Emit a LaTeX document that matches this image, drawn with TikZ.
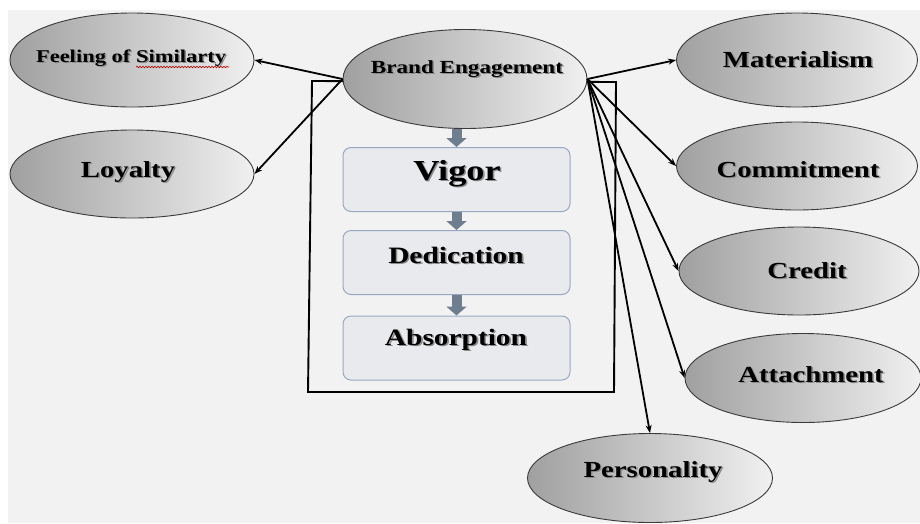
\documentclass[tikz,border=0pt]{standalone}
\usepackage{fontspec}
\newfontfamily\lblfont{Liberation Serif}[FakeStretch=1.25]
\usetikzlibrary{arrows.meta,decorations.pathmorphing,shapes.geometric}

\definecolor{pagebg}{HTML}{F2F2F2}
\definecolor{ovaldark}{HTML}{A0A0A0}
\definecolor{ovalmid}{HTML}{CACACA}
\definecolor{ovallight}{HTML}{F0F0F0}
\definecolor{ovalline}{HTML}{3A3A3A}
\definecolor{boxfill}{HTML}{E9EAEE}
\definecolor{boxline}{HTML}{98A8C2}
\definecolor{flowgray}{HTML}{6F7E8F}

\tikzset{
  oval/.style={ellipse, draw=ovalline, line width=0.9pt, inner sep=0pt,
    left color=ovaldark, middle color=ovalmid, right color=ovallight},
  stagebox/.style={draw=boxline, fill=boxfill, line width=1pt, rounded corners=8pt,
    inner sep=0pt, minimum width=227pt, minimum height=64pt},
  lbl/.style={anchor=base, inner sep=0pt, font=\lblfont\bfseries, text=black},
  lblshadow/.style={lbl, text=black!45},
  link/.style={line width=1.8pt, -{Stealth[length=8pt,width=6pt]}},
  flow/.style={draw=flowgray, line width=10pt, -{Triangle[length=9pt,width=20pt]}},
  frame/.style={line width=1.9pt, line join=miter}
}

% label with a soft drop shadow: name, base point x,y, size, text
\newcommand\shlabel[4]{%
  \node[lblshadow] (#1-sh) at ([shift={(1.6,1.6)}]#2) {\fontsize{#3}{#3}\selectfont #4};
  \node[lbl] (#1) at (#2) {\fontsize{#3}{#3}\selectfont #4};}

\begin{document}
\begin{tikzpicture}[x=1pt, y=-1pt]
  \useasboundingbox (0,0) rectangle (920,523);
  \fill[white] (0,0) rectangle (920,523);
  \fill[pagebg] (8,10) rectangle (920,523);

  % open frame around the engagement stages
  \draw[frame] (312,81) -- (308,392) -- (614,392) -- (616,82) -- cycle;

  % ovals
  \node[oval, minimum width=244pt, minimum height=94pt] (fs)  at (132,60)  {};
  \node[oval, minimum width=244pt, minimum height=88pt] (loy) at (132,174) {};
  \node[oval, minimum width=244pt, minimum height=99pt] (be)  at (465,79)  {};
  \node[oval, minimum width=241pt, minimum height=94pt] (mat) at (797,60)  {};
  \node[oval, minimum width=241pt, minimum height=88pt] (com) at (797,166) {};
  \node[oval, minimum width=240pt, minimum height=88pt] (cre) at (799,271) {};
  \node[oval, minimum width=236pt, minimum height=89pt] (att) at (803,378) {};
  \node[oval, minimum width=245pt, minimum height=89pt] (per) at (650,478) {};

  % stages
  \node[stagebox] (vig) at (456.5,179.5) {};
  \node[stagebox] (ded) at (456.5,262.5) {};
  \node[stagebox] (abs) at (456.5,348)   {};

  % flow between stages
  \draw[flow] (vig.north |- be.south) -- (vig.north);
  \draw[flow] (vig.south) -- (ded.north);
  \draw[flow] (ded.south) -- (abs.north);

  % labels
  \shlabel{fs-t}{131,62}{18}{Feeling of Similarty}
  \shlabel{loy-t}{128,177}{23}{Loyalty}
  \shlabel{be-t}{467,73}{18.5}{Brand Engagement}
  \shlabel{vig-t}{457,180}{29}{Vigor}
  \shlabel{ded-t}{456,263}{23.5}{Dedication}
  \shlabel{abs-t}{456,345}{23.5}{Absorption}
  \shlabel{mat-t}{798,67}{23}{Materialism}
  \shlabel{com-t}{798,177}{23}{Commitment}
  \shlabel{cre-t}{807,278}{23}{Credit}
  \shlabel{att-t}{811,382}{23}{Attachment}
  \shlabel{per-t}{653,477}{23}{Personality}

  % spelling mark under the misspelt word
  \draw[red!75!black, line width=0.6pt, decorate,
        decoration={snake, amplitude=0.8pt, segment length=3pt}]
        (136,67) -- (229,67);

  % relations from the central oval
  \draw[link] (be.west) -- (fs.east);
  \draw[link] (be.west) -- (loy.east);
  \draw[link] (be.east) -- (mat.west);
  \draw[link] (be.east) -- (com.west);
  \draw[link] (be.east) -- (cre.west);
  \draw[link] (be.east) -- (att.west);
  \draw[link] (be.east) -- (per.north);
\end{tikzpicture}
\end{document}
